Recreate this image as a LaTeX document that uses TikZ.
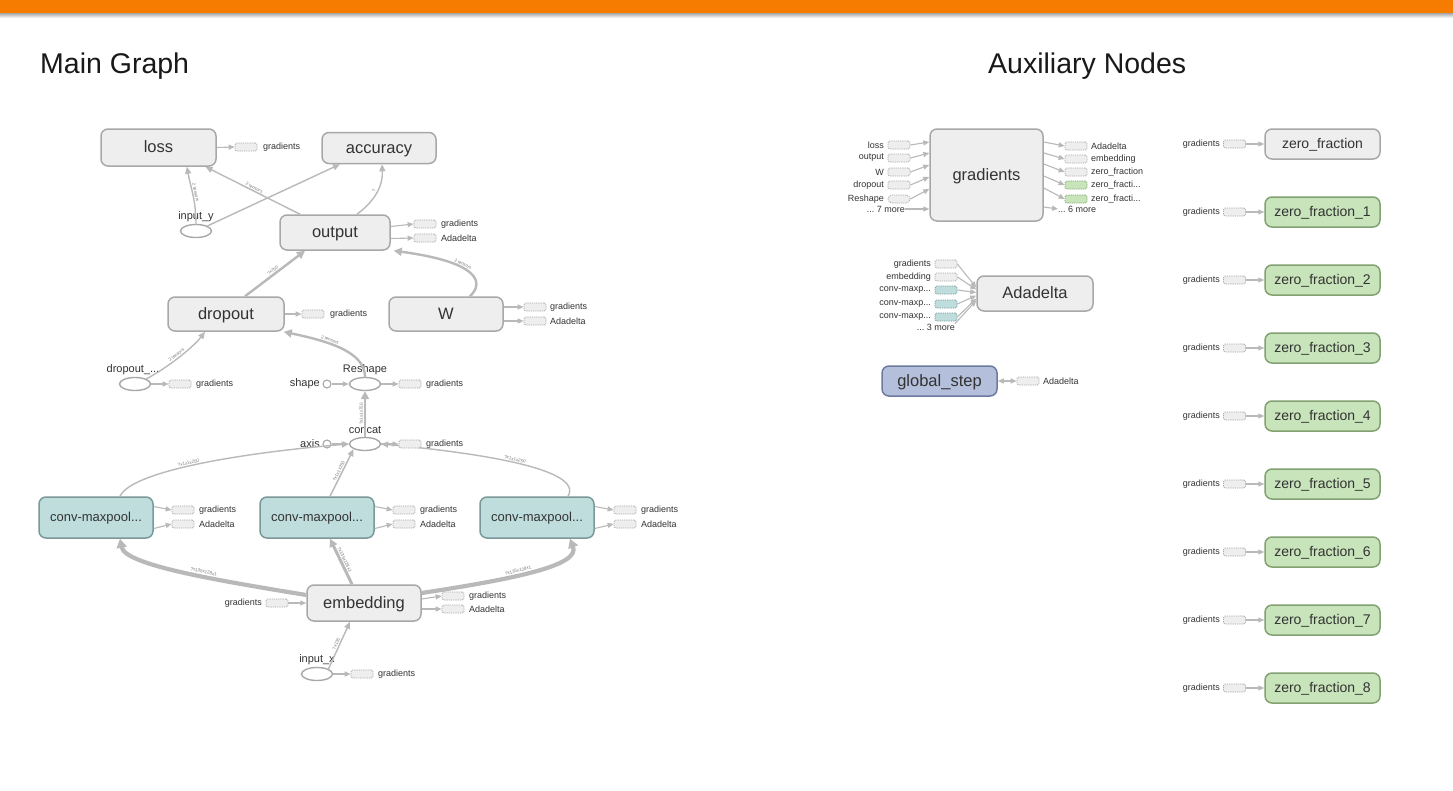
\documentclass[tikz,border=0pt]{standalone}
\usepackage{fontspec}
\setmainfont{Liberation Sans}
\usetikzlibrary{arrows.meta,shapes.geometric,calc}
\newcommand{\tdots}{...}
\definecolor{orangebar}{RGB}{245,124,0}
\definecolor{nodefill}{RGB}{238,238,238}
\definecolor{nodedraw}{RGB}{168,168,168}
\definecolor{edgec}{RGB}{185,185,185}
\definecolor{tealfill}{RGB}{191,221,221}
\definecolor{tealdraw}{RGB}{122,152,152}
\definecolor{greenfill}{RGB}{200,228,186}
\definecolor{greendraw}{RGB}{130,160,114}
\definecolor{bluefill}{RGB}{180,191,219}
\definecolor{bluedraw}{RGB}{108,122,160}
\definecolor{txt}{RGB}{51,51,51}
\definecolor{elabc}{RGB}{120,120,120}
\tikzset{
  op/.style={rectangle, rounded corners=7pt, draw=nodedraw, fill=nodefill, line width=1.5pt, text=txt, font=\fontsize{16.5}{18}\selectfont, inner sep=0pt, text height=11pt, text depth=1pt},
  tealnode/.style={op, fill=tealfill, draw=tealdraw, font=\fontsize{13}{15}\selectfont, text height=9pt, text depth=1pt},
  greennode/.style={op, fill=greenfill, draw=greendraw, font=\fontsize{14}{16}\selectfont, text height=10pt, text depth=1pt},
  bluenode/.style={op, fill=bluefill, draw=bluedraw, font=\fontsize{16.5}{18}\selectfont},
  ell/.style={ellipse, draw=nodedraw, fill=white, line width=1.4pt, minimum width=31pt, minimum height=13pt, inner sep=0pt},
  constnode/.style={circle, draw=nodedraw, fill=white, line width=1.1pt, minimum size=8pt, inner sep=0pt},
  stub/.style={rectangle, rounded corners=2pt, draw=nodedraw, dash pattern=on 1.2pt off 1pt, line width=0.7pt, fill=nodefill, minimum width=22pt, minimum height=8pt, inner sep=0pt},
  tstub/.style={stub, fill=tealfill, draw=tealdraw},
  gstub/.style={stub, fill=greenfill, draw=greendraw},
  lbl/.style={font=\fontsize{9}{10}\selectfont, text=txt, inner sep=0pt},
  elbl/.style={font=\fontsize{11}{12}\selectfont, text=txt, inner sep=0pt},
  elab/.style={sloped, font=\fontsize{4.5}{5}\selectfont, text=elabc, inner sep=1pt, above},
  e/.style={draw=edgec, line width=1.4pt, -{Triangle[length=7pt,width=6pt]}},
  et/.style={draw=edgec, line width=2.4pt, -{Triangle[length=8pt,width=8pt]}},
  ett/.style={draw=edgec, line width=4.2pt, -{Triangle[length=9pt,width=10pt]}},
  se/.style={draw=edgec, line width=1.1pt, -{Triangle[length=6pt,width=5pt]}},
  title/.style={font=\fontsize{28.5}{32}\selectfont, text=black!90, anchor=base west, inner sep=0pt}
}
\begin{document}
\begin{tikzpicture}[x=1pt,y=-1pt]
\fill[white] (0,0) rectangle (1453,790);
\useasboundingbox (0,0) rectangle (1453,790);
\shade[top color=black!35, bottom color=white] (0,13) rectangle (1453,18);
\fill[orangebar] (0,0) rectangle (1453,13);

\node[title] (tmain) at (40,73) {Main Graph};
\node[title] (taux) at (988,73) {Auxiliary Nodes};

% ---------------- main graph nodes
\node[op, minimum width=115pt, minimum height=37pt] (loss) at (158.5,147.5) {loss};
\node[op, minimum width=114pt, minimum height=31pt] (acc) at (379,148) {accuracy};
\node[op, minimum width=110pt, minimum height=35pt] (output) at (335,232.5) {output};
\node[op, minimum width=116pt, minimum height=34pt] (dropout) at (226,314) {dropout};
\node[op, minimum width=114pt, minimum height=34pt] (W) at (446,314) {W};
\node[ell] (inputy) at (196,231) {};
\node[elbl] (inputyl) at (196,217) {input\_y};
\node[ell] (dropin) at (135,384) {};
\node[elbl] (dropinl) at (133,370) {dropout\_\tdots};
\node[ell] (reshape) at (365,384) {};
\node[elbl] (reshapel) at (365,370) {Reshape};
\node[constnode] (shape) at (327,384) {};
\node[elbl, anchor=east] (shapel) at (320,384) {shape};
\node[ell] (concat) at (365,444) {};
\node[elbl] (concatl) at (365,430) {concat};
\node[constnode] (axis) at (327,444) {};
\node[elbl, anchor=east] (axisl) at (320,444) {axis};
\node[tealnode, minimum width=114pt, minimum height=41pt] (conv1) at (96,517.5) {conv-maxpool\tdots};
\node[tealnode, minimum width=114pt, minimum height=41pt] (conv2) at (317,517.5) {conv-maxpool\tdots};
\node[tealnode, minimum width=114pt, minimum height=41pt] (conv3) at (537,517.5) {conv-maxpool\tdots};
\node[op, minimum width=114pt, minimum height=36pt] (emb) at (364,603) {embedding};
\node[ell] (inputx) at (317,674) {};
\node[elbl] (inputxl) at (317,660) {input\_x};

% ---------------- main graph edges
\draw[e] (inputy.north) .. controls (196,200) and (190,185) .. ([xshift=28.5pt]loss.south) node[elab, pos=0.5] {2 tensors};
\draw[e] ([xshift=-35pt]output.north) -- ([xshift=47pt]loss.south) node[elab, pos=0.5] {2 tensors};
\draw[e] (inputy.north east) -- ([xshift=-39pt]acc.south);
\draw[e] ([xshift=22pt]output.north) .. controls (376,200) and (383,185) .. ([xshift=3pt]acc.south) node[elab, pos=0.5] {?};
\draw[et] ([xshift=19pt]dropout.north) -- ([xshift=-30pt]output.south) node[elab, pos=0.5] {?x750};
\draw[et] ([xshift=24pt]W.north) .. controls (485,282) and (478,262) .. ([xshift=3pt]output.south east) node[elab, pos=0.6] {2 tensors};
\draw[e] (dropin.north east) .. controls (172,365) and (195,345) .. ([xshift=-21pt]dropout.south) node[elab, pos=0.45] {2 tensors};
\draw[et] (reshape.north) .. controls (365,350) and (322,340) .. ([xshift=-1pt]dropout.south east) node[elab, pos=0.6] {2 tensors};
\draw[se] (shape) -- (reshape.west);
\draw[et] (concat.north) -- (reshape.south) node[elab, pos=0.5] {?x1x1x750};
\draw[se] (axis) -- (concat.west);
\draw[e] ([xshift=24pt]conv1.north) .. controls (132,470) and (250,452) .. (concat.west) node[elab, pos=0.45] {?x1x1x250};
\draw[e] ([xshift=13pt]conv2.north) -- (concat.south west) node[elab, pos=0.5] {?x1x1x250};
\draw[e] ([xshift=31pt]conv3.north) .. controls (585,468) and (470,452) .. (concat.east) node[elab, pos=0.5] {?x1x1x250};
\draw[ett] ([yshift=8pt]emb.west) .. controls (215,580) and (125,565) .. ([xshift=24pt]conv1.south) node[elab, pos=0.4] {?x135x128x1};
\draw[et, line width=3pt] ([xshift=-12pt]emb.north) -- ([xshift=13pt]conv2.south) node[elab, pos=0.5] {?x135x128x1};
\draw[ett] ([yshift=10pt]emb.east) .. controls (520,578) and (580,565) .. ([xshift=33pt]conv3.south) node[elab, pos=0.4] {?x135x128x1};
\draw[e] (inputx.north east) -- ([xshift=-14pt]emb.south) node[elab, pos=0.5] {?x135};

% ---------------- main graph stubs
\node[stub] (sloss) at (246,147) {};
\node[lbl, anchor=west] (sloss-l) at (263,147) {gradients};
\draw[se] (loss.east) -- (sloss.west);
\node[stub] (sout1) at (425,224) {};
\node[lbl, anchor=west] (sout1-l) at (441,224) {gradients};
\node[stub] (sout2) at (425,238) {};
\node[lbl, anchor=west] (sout2-l) at (441,238) {Adadelta};
\draw[se] ([yshift=6pt]output.east) -- (sout1.west);
\draw[se] ([yshift=-6pt]output.east) -- (sout2.west);
\node[stub] (sdrop) at (313,314) {};
\node[lbl, anchor=west] (sdrop-l) at (330,314) {gradients};
\draw[se] (dropout.east) -- (sdrop.west);
\node[stub] (sW1) at (535,307) {};
\node[lbl, anchor=west] (sW1-l) at (550,307) {gradients};
\node[stub] (sW2) at (535,321) {};
\node[lbl, anchor=west] (sW2-l) at (550,321) {Adadelta};
\draw[se] ([yshift=7pt]W.east) -- (sW1.west);
\draw[se] ([yshift=-7pt]W.east) -- (sW2.west);
\node[stub] (sdin) at (180,384) {};
\node[lbl, anchor=west] (sdin-l) at (196,384) {gradients};
\draw[se] (dropin.east) -- (sdin.west);
\node[stub] (sresh) at (410,384) {};
\node[lbl, anchor=west] (sresh-l) at (426,384) {gradients};
\draw[se] (reshape.east) -- (sresh.west);
\node[stub] (sconc) at (410,444) {};
\node[lbl, anchor=west] (sconc-l) at (426,444) {gradients};
\draw[se] (concat.east) -- (sconc.west);
\foreach \c/\x in {conv1/183,conv2/404,conv3/625}{
  \node[stub] (\c-s1) at (\x,510) {};
  \node[lbl, anchor=west] (\c-l1) at (\x+16,510) {gradients};
  \node[stub] (\c-s2) at (\x,524) {};
  \node[lbl, anchor=west] (\c-l2) at (\x+16,524) {Adadelta};
  \draw[se] ([yshift=11pt]\c.east) -- (\c-s1.west);
  \draw[se] ([yshift=-11pt]\c.east) -- (\c-s2.west);
}
\node[stub] (sembin) at (277,603) {};
\node[lbl, anchor=east] (sembin-l) at (262,603) {gradients};
\draw[se] (sembin.east) -- (emb.west);
\node[stub] (semb1) at (453,596) {};
\node[lbl, anchor=west] (semb1-l) at (469,596) {gradients};
\node[stub] (semb2) at (453,609) {};
\node[lbl, anchor=west] (semb2-l) at (469,609) {Adadelta};
\draw[se] ([yshift=4pt]emb.east) -- (semb1.west);
\draw[se] ([yshift=-6pt]emb.east) -- (semb2.west);
\node[stub] (sinx) at (362,674) {};
\node[lbl, anchor=west] (sinx-l) at (378,674) {gradients};
\draw[se] (inputx.east) -- (sinx.west);

% ---------------- auxiliary: gradients
\node[op, minimum width=113pt, minimum height=92pt] (grad) at (986.5,175) {gradients};
\foreach \n/\t/\y/\s in {a/loss/145/33, b/output/158/22, c/W/172/10, d/dropout/185/-2}{
  \node[stub] (gi\n) at (899,\y) {};
  \node[lbl, anchor=east] (gil\n) at (884,\y) {\t};
  \draw[se] (gi\n.east) -- ([yshift=\s pt]grad.west);
}
\node[stub, rounded corners=4pt] (gie) at (899,199) {};
\node[lbl, anchor=east] (gile) at (884,199) {Reshape};
\draw[se] (gie.east) -- ([yshift=-14pt]grad.west);
\node[lbl, anchor=east] (gimore) at (905,209) {\tdots\ 7 more};
\draw[se] (gimore.east) -- ([yshift=-34pt]grad.west);
\foreach \n/\t/\y/\s/\st in {a/Adadelta/146/33/stub, b/embedding/159/22/stub, c/zero\_fraction/172/11/stub, d/zero\_fracti\tdots/185/-1/gstub, e/zero\_fracti\tdots/199/-13/gstub}{
  \node[\st] (go\n) at (1076,\y) {};
  \node[lbl, anchor=west] (gol\n) at (1091,\y) {\t};
  \draw[se] ([yshift=\s pt]grad.east) -- (go\n.west);
}
\node[lbl, anchor=west] (gomore) at (1058,209) {\tdots\ 6 more};
\draw[se] ([yshift=-32pt]grad.east) -- (gomore.west);

% ---------------- auxiliary: Adadelta
\node[op, minimum width=116pt, minimum height=35pt] (ada) at (1035,293.5) {Adadelta};
\foreach \n/\t/\y/\s/\st in {a/gradients/264/6/stub, b/embedding/277/4/stub, c/conv-maxp\tdots/290/1/tstub, d/conv-maxp\tdots/304/-2/tstub, e/conv-maxp\tdots/317/-5/tstub}{
  \node[\st] (ai\n) at (946,\y) {};
  \node[lbl, anchor=east] (ail\n) at (931,\y) {\t};
  \draw[se] (ai\n.east) -- ([yshift=\s pt]ada.west);
}
\node[lbl, anchor=east] (aimore) at (955,327) {\tdots\ 3 more};
\draw[se] (aimore.north east) -- ([yshift=-7pt]ada.west);

% ---------------- auxiliary: global_step
\node[bluenode, minimum width=115pt, minimum height=30pt] (gstep) at (939.5,381) {global\_step};
\node[stub] (sgs) at (1028,381) {};
\node[lbl, anchor=west] (sgs-l) at (1043,381) {Adadelta};
\draw[draw=edgec, line width=1.1pt, {Triangle[length=6pt,width=5pt]}-{Triangle[length=6pt,width=5pt]}] (gstep.east) -- (sgs.west);

% ---------------- auxiliary: zero_fraction column
\node[op, font=\fontsize{14}{16}\selectfont, text height=10pt, text depth=1pt, minimum width=115pt, minimum height=30pt] (zf0) at (1322.5,144) {zero\_fraction};
\node[stub] (zs0) at (1234.5,144) {};
\node[lbl, anchor=east] (zl0) at (1220,144) {gradients};
\draw[se] (zs0.east) -- (zf0.west);
\foreach \i in {1,2,3,4,5,6,7,8}{
  \node[greennode, minimum width=115pt, minimum height=30pt] (zf\i) at (1322.5,144+68*\i) {zero\_fraction\_\i};
  \node[stub] (zs\i) at (1234.5,144+68*\i) {};
  \node[lbl, anchor=east] (zl\i) at (1220,144+68*\i) {gradients};
  \draw[se] (zs\i.east) -- (zf\i.west);
}
\end{tikzpicture}
\end{document}
